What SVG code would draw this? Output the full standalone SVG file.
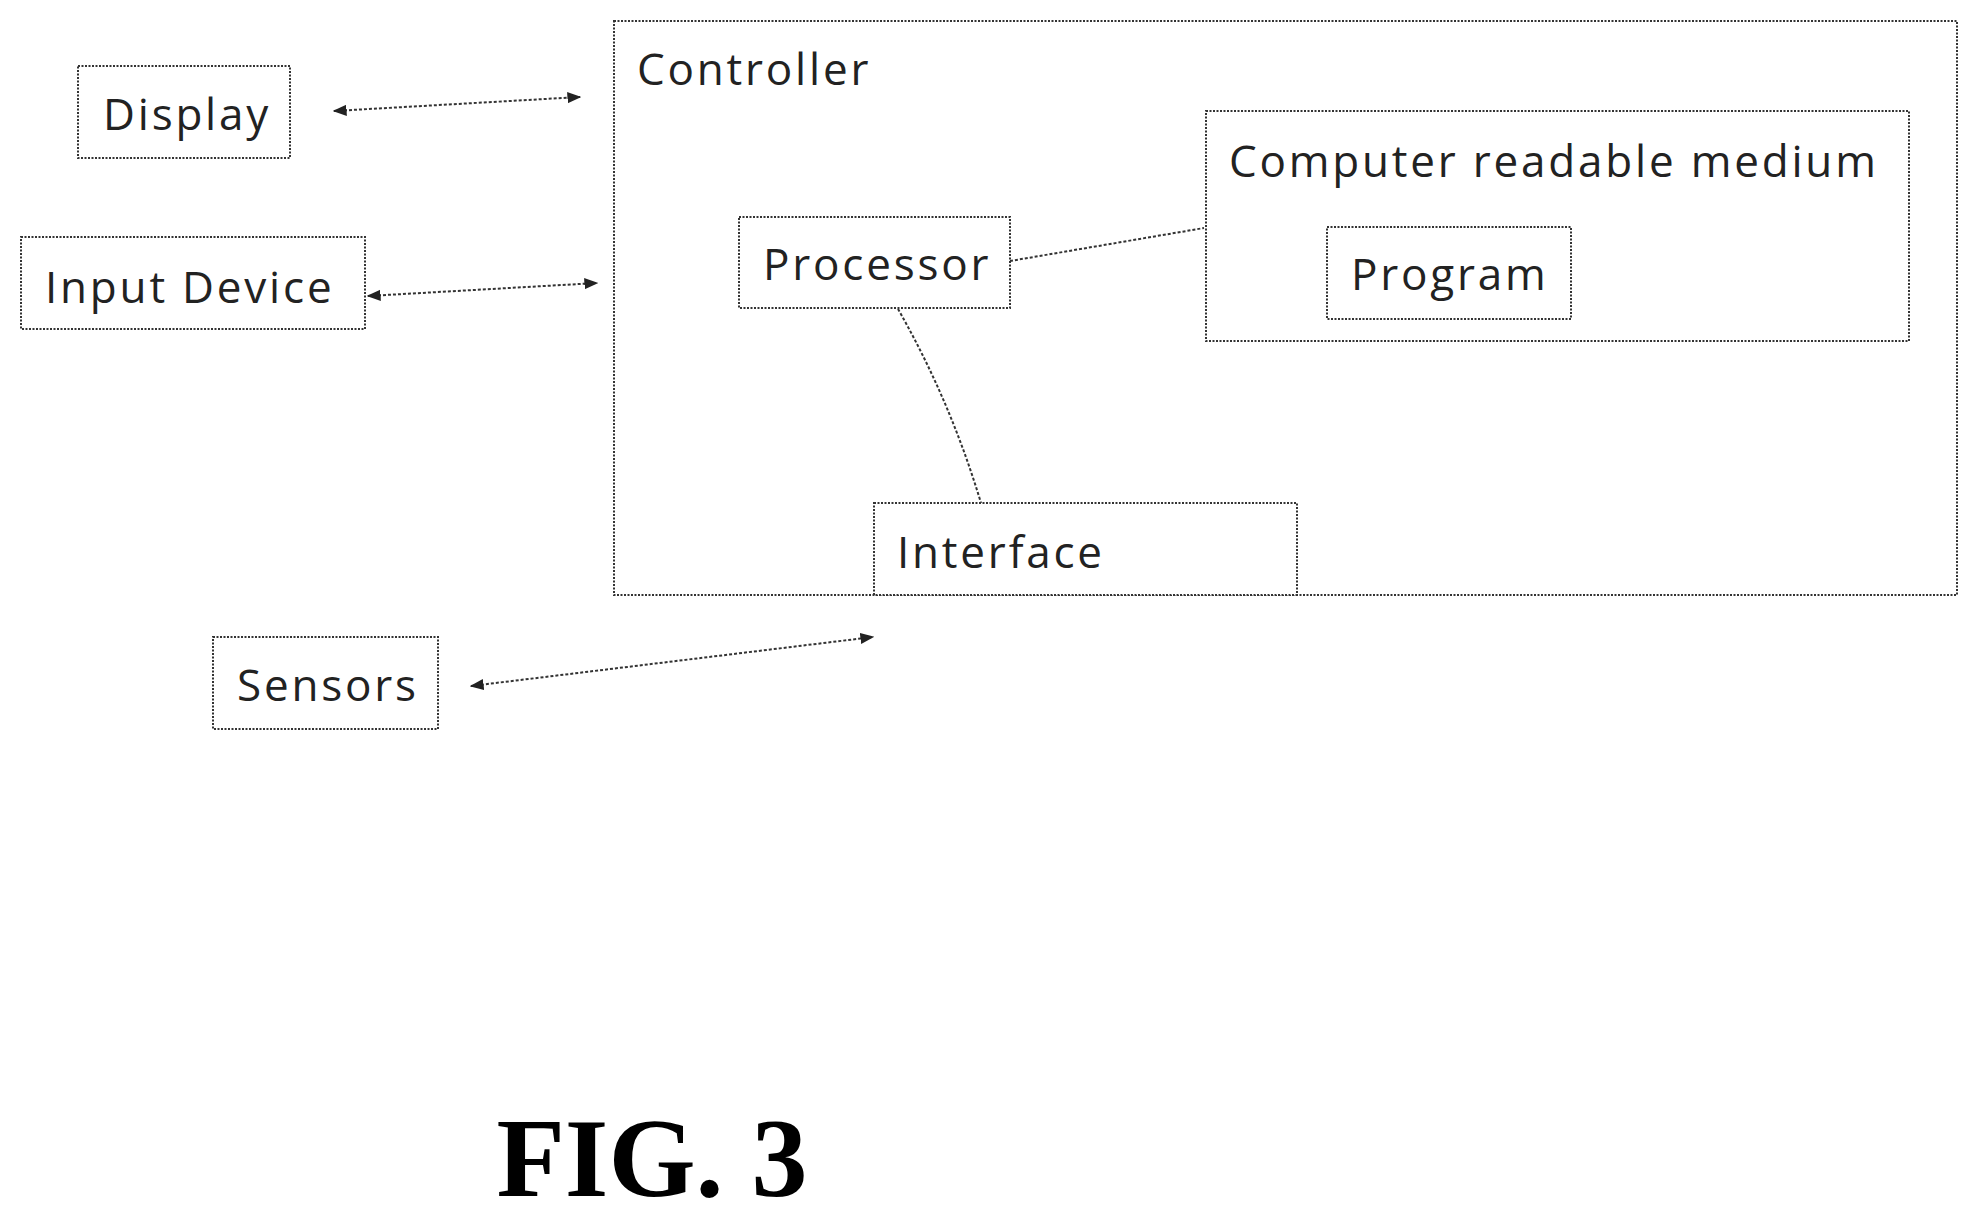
<svg xmlns="http://www.w3.org/2000/svg" width="1978" height="1218" viewBox="0 0 1978 1218">
<defs>
<marker id="ah" viewBox="0 0 10 10" refX="9" refY="5" markerWidth="7" markerHeight="7" orient="auto-start-reverse"><path d="M0,1 L10,5 L0,9 z" fill="#222"/></marker>
<style>
.b{fill:#fff;stroke:#333;stroke-width:2;stroke-dasharray:2 1.5}
.t{font-family:"Open Sans","Liberation Sans",sans-serif;font-size:44px;letter-spacing:2.8px;fill:#222}
.c{stroke:#333;stroke-width:2;stroke-dasharray:3 2;fill:none}
</style>
</defs>
<rect width="1978" height="1218" fill="#fff"/>
<g id="controller"><rect class="b" x="614" y="21" width="1343" height="574"/><text class="t" x="637" y="85">Controller</text></g>
<g id="crm"><rect class="b" x="1206" y="111" width="703" height="230"/><text class="t" x="1229" y="177">Computer readable medium</text></g>
<g id="program"><rect class="b" x="1327" y="227" width="244" height="92"/><text class="t" x="1351" y="290">Program</text></g>
<g id="processor"><rect class="b" x="739" y="217" width="271" height="91"/><text class="t" x="763" y="280">Processor</text></g>
<g id="interface"><rect class="b" x="874" y="503" width="423" height="92"/><text class="t" x="897" y="568">Interface</text></g>
<g id="display"><rect class="b" x="78" y="66" width="212" height="92"/><text class="t" x="103" y="130">Display</text></g>
<g id="input"><rect class="b" x="21" y="237" width="344" height="92"/><text class="t" x="45" y="303">Input Device</text></g>
<g id="sensors"><rect class="b" x="213" y="637" width="225" height="92"/><text class="t" x="237" y="701">Sensors</text></g>
<g id="connectors">
<line class="c" x1="334" y1="111" x2="580" y2="97" marker-start="url(#ah)" marker-end="url(#ah)"/>
<line class="c" x1="368" y1="296" x2="597" y2="283" marker-start="url(#ah)" marker-end="url(#ah)"/>
<line class="c" x1="471" y1="686" x2="873" y2="637" marker-start="url(#ah)" marker-end="url(#ah)"/>
<line class="c" x1="1010" y1="261" x2="1204" y2="228"/>
<path class="c" d="M898,309 Q950,400 981,503"/>
</g>
<text x="652" y="1196" text-anchor="middle" font-family="Liberation Serif,serif" font-weight="bold" font-size="112" fill="#000">FIG. 3</text>
</svg>
